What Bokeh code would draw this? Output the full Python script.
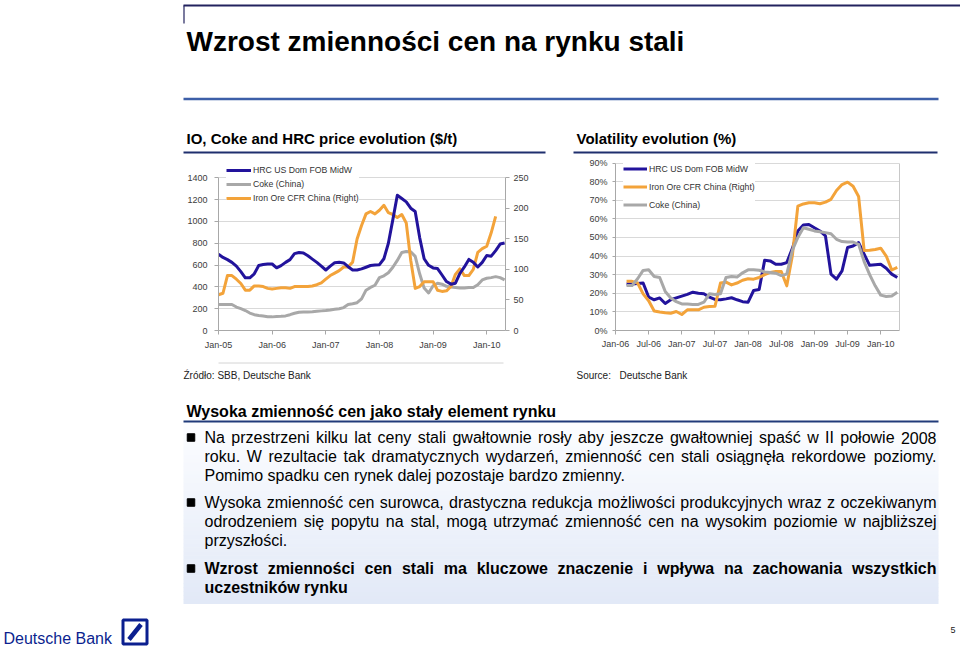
from bokeh.plotting import figure
from bokeh.layouts import column, row
from bokeh.models import (Range1d, LinearAxis, FixedTicker, Legend, LegendItem, Spacer,
                          PrintfTickFormatter)
from bokeh.embed import file_html
from bokeh.resources import INLINE
from bokeh.core.properties import value

FONT = "Liberation Sans"

# ------------------------------------------------------------------ data
slide_title = "Wzrost zmienności cen na rynku stali"
left_title = "IO, Coke and HRC price evolution ($/t)"
right_title = "Volatility evolution (%)"
left_source = "Źródło: SBB, Deutsche Bank"
right_source_label = "Source:"
right_source = "Deutsche Bank"
box_heading = "Wysoka zmienność cen jako stały element rynku"
footer_brand = "Deutsche Bank"
page_number = "5"

series_names = ["HRC US Dom FOB MidW", "Coke (China)", "Iron Ore CFR China (Right)"]

# monthly prices from Jan-05 (month 0)
price_tick_months = [0, 12, 24, 36, 48, 60]
price_tick_labels = ["Jan-05", "Jan-06", "Jan-07", "Jan-08", "Jan-09", "Jan-10"]
price_left_ticks = [0, 200, 400, 600, 800, 1000, 1200, 1400]
price_right_ticks = [0, 50, 100, 150, 200, 250]
hrc_price = [700, 670, 650, 625, 590, 540, 483, 483, 520, 596,
             605, 610, 610, 575, 595, 625, 650, 705, 715, 710,
             685, 655, 625, 590, 555, 590, 622, 625, 620, 585,
             555, 555, 565, 580, 596, 600, 604, 658, 800, 1017,
             1241, 1211, 1180, 1122, 1092, 852, 658, 598, 574, 568,
             509, 449, 425, 434, 523, 583, 652, 625, 583, 625,
             688, 682, 733, 793, 802]
coke_price = [238, 238, 238, 238, 215, 200, 183, 160, 145, 138,
              132, 126, 125, 128, 130, 134, 145, 158, 168, 170,
              170, 172, 176, 180, 183, 188, 194, 200, 210, 238,
              245, 255, 290, 370, 395, 415, 485, 502, 530, 580,
              643, 715, 724, 722, 680, 520, 389, 344, 410, 434,
              425, 405, 400, 395, 390, 390, 395, 395, 420, 464,
              479, 485, 494, 485, 464]
iron_price = [58.5, 61, 90, 90, 84, 77, 66, 66, 73, 73,
              72, 69, 68, 69, 70, 70, 69, 72, 72, 72,
              72, 73, 75, 78, 84, 90, 94, 98, 104, 104,
              112, 150, 172, 191, 195, 191, 197, 205, 193, 190,
              185, 190, 176, 115, 69, 72, 80, 80, 80, 66,
              64, 65, 72, 92, 101, 90, 90, 100, 128, 134,
              138, 160, 187]

# volatility (%), monthly from Mar-06 (month 2 counted from Jan-06)
vol_names = ["HRC US Dom FOB MidW", "Iron Ore CFR China (Right)", "Coke (China)"]
vol_tick_months = [0, 6, 12, 18, 24, 30, 36, 42, 48]
vol_tick_labels = ["Jan-06", "Jul-06", "Jan-07", "Jul-07", "Jan-08",
                   "Jul-08", "Jan-09", "Jul-09", "Jan-10"]
vol_y_ticks = [0, 10, 20, 30, 40, 50, 60, 70, 80, 90]
vol_first_month = 2
vol_hrc = [25, 25, 25.3, 25.5, 18, 16.5, 17.5, 14.5, 16.5, 17.5,
           18.5, 19.4, 20.6, 20, 19.7, 17.9, 16.7, 16.5, 17, 17.6,
           16.5, 15.5, 15.2, 21.5, 22, 37.8, 37.4, 35.6, 35.6, 36.5,
           44, 53.5, 56.7, 57, 55.2, 53.5, 50.8, 30.3, 27.6, 32,
           44.6, 45.4, 47.2, 41, 35, 35.3, 35.6, 33.5, 30.3, 28.5]
vol_iron = [26.4, 26.4, 25.5, 19.7, 16, 10.5, 9.9, 9.5, 9.3, 10.2,
            8.6, 11.1, 11.1, 11.1, 12.5, 12.9, 13, 25.5, 26, 24.5,
            25.5, 27, 27.8, 27.6, 28.5, 30, 31.2, 31.7, 31.7, 24,
            40, 66.8, 68, 68.6, 68.6, 68.1, 69, 70.5, 75.2, 78.4,
            79.7, 77.5, 72, 43, 43.1, 43.5, 44.2, 40, 32.5, 33.9]
vol_coke = [24.2, 24.2, 27.8, 32.3, 32.6, 29, 28.5, 21, 17.5, 15.5,
            14.3, 14.3, 14, 14, 15.2, 19.7, 19.4, 19.7, 28.5, 29,
            28.7, 31, 32.6, 32.6, 32.4, 31.5, 31.2, 30.8, 29.5, 30.3,
            43, 50, 55.2, 54.4, 53.5, 53.1, 52.6, 52, 49, 47.8,
            47.5, 47.5, 46.3, 37, 30, 24, 19, 18.3, 18.5, 20.5]

# text box: (text, bold, justified, bullet)
box_lines = [
    ("Na przestrzeni kilku lat ceny stali gwałtownie rosły aby jeszcze gwałtowniej spaść w II połowie 2008", False, True, True),
    ("roku. W rezultacie tak dramatycznych wydarzeń, zmienność cen stali osiągnęła rekordowe poziomy.", False, True, False),
    ("Pomimo spadku cen rynek dalej pozostaje bardzo zmienny.", False, False, False),
    ("Wysoka zmienność cen surowca, drastyczna redukcja możliwości produkcyjnych wraz z oczekiwanym", False, True, True),
    ("odrodzeniem się popytu na stal, mogą utrzymać zmienność cen na wysokim poziomie w najbliższej", False, True, False),
    ("przyszłości.", False, False, False),
    ("Wzrost zmienności cen stali ma kluczowe znaczenie i wpływa na zachowania wszystkich", True, True, True),
    ("uczestników rynku", True, False, False),
]
box_baselines = [443, 462, 481, 508, 527, 546, 574, 593]

# ------------------------------------------------------------------ styles
C_HRC = "#22139c"
C_COKE = "#a8a8a8"
C_IRON = "#f3a33a"
GRID = "#d9d9d9"
AXIS = "#a8a8a8"
TICK_TXT = "#3c3c3c"
NAVY = "#1f2f6e"
DB_BLUE = "#0b1f8f"
BASE_SHIFT = 0.36   # renderer places alphabetic baseline this many em lower

# Arial / Liberation Sans advance widths (1/1000 em)
REG = {' ': 278, '.': 278, ',': 278, ':': 278, '(': 333, ')': 333, '-': 333}
for ch, w in zip("abcdefghijklmnopqrstuvwxyz",
                 [556, 556, 500, 556, 556, 278, 556, 556, 222, 222, 500, 222, 833,
                  556, 556, 556, 556, 333, 500, 278, 556, 500, 722, 500, 500, 500]):
    REG[ch] = w
REG.update({'ą': 556, 'ć': 500, 'ę': 556, 'ł': 222, 'ń': 556, 'ó': 556, 'ś': 500, 'ź': 500, 'ż': 500})
for ch, w in zip("ABCDEFGHIJKLMNOPQRSTUVWXYZ",
                 [667, 667, 722, 722, 667, 611, 778, 722, 278, 500, 667, 556, 833,
                  722, 778, 667, 778, 722, 667, 611, 722, 667, 944, 667, 667, 611]):
    REG[ch] = w
for d in "0123456789":
    REG[d] = 556
BOLD = dict(REG)
for ch, w in zip("abcdefghijklmnopqrstuvwxyz",
                 [556, 611, 556, 611, 556, 333, 611, 611, 278, 278, 556, 278, 889,
                  611, 611, 611, 611, 389, 556, 333, 611, 556, 778, 556, 556, 500]):
    BOLD[ch] = w
BOLD.update({'ą': 556, 'ć': 556, 'ę': 556, 'ł': 278, 'ń': 611, 'ó': 611, 'ś': 556, 'ź': 500, 'ż': 500})


def text_w(s, size, bold):
    tab = BOLD if bold else REG
    return sum(tab.get(ch, 556) for ch in s) * size / 1000.0


def canvas(w, h, y0, y1):
    p = figure(width=w, height=h, x_range=Range1d(0, w), y_range=Range1d(y1, y0),
               output_backend="svg", toolbar_location=None,
               x_axis_location=None, y_axis_location=None,
               min_border=0, outline_line_color=None,
               background_fill_color="white", border_fill_color="white")
    p.grid.visible = False
    return p


def style_axis(ax, ticks, tick_out, standoff):
    ax.ticker = FixedTicker(ticks=ticks)
    ax.axis_line_color = AXIS
    ax.major_tick_line_color = AXIS
    ax.major_tick_out = tick_out
    ax.major_tick_in = 0
    ax.minor_tick_line_color = None
    ax.major_label_text_font = FONT
    ax.major_label_text_font_size = "9px"
    ax.major_label_text_color = TICK_TXT
    ax.major_label_standoff = standoff


def txt(p, x, y, s, size, bold=False, color="black", align="left"):
    p.text(x=[x], y=[y - BASE_SHIFT * size], text=[s], text_font=value(FONT),
           text_font_size="%gpx" % size,
           text_font_style="bold" if bold else "normal", text_color=color,
           text_align=align, text_baseline="alphabetic")

# ------------------------------------------------------------------ header
hdr = canvas(960, 155, 0, 155)
hdr.segment(x0=[183], y0=[5], x1=[960], y1=[5], line_color="#22225e", line_width=2)
hdr.segment(x0=[183.5], y0=[5], x1=[183.5], y1=[23], line_color="#22225e", line_width=1.2)
txt(hdr, 186, 51, slide_title, 28, bold=True)
hdr.segment(x0=[183], y0=[98.5], x1=[938], y1=[98.5], line_color="#3d5fa8", line_width=2.5)
txt(hdr, 186, 143, left_title, 15, bold=True)
txt(hdr, 576, 143, right_title, 15, bold=True)
hdr.segment(x0=[183, 573], y0=[152, 152], x1=[545, 937], y1=[152, 152],
            line_color=NAVY, line_width=2)

# ------------------------------------------------------------------ left chart
P1_W, P1_H = 362, 205
P1_BL, P1_BR, P1_BB = 35, 40, 25
P1_DATA_PX = 157               # height from 0 to top tick
p1_frame_h = P1_H - P1_BB
y1_end = price_left_ticks[-1] * p1_frame_h / P1_DATA_PX
y1r_end = price_right_ticks[-1] * p1_frame_h / P1_DATA_PX
X1_END = 64.2

p1 = figure(width=P1_W, height=P1_H, x_range=Range1d(0, X1_END), y_range=Range1d(0, y1_end),
            output_backend="svg", toolbar_location=None,
            min_border_left=P1_BL, min_border_right=P1_BR, min_border_top=0,
            min_border_bottom=P1_BB, outline_line_color=None,
            background_fill_color="white", border_fill_color="white")
p1.extra_y_ranges = {"right": Range1d(0, y1r_end)}
style_axis(p1.xaxis[0], price_tick_months, 4, 5)
p1.xaxis[0].major_label_overrides = dict(zip(price_tick_months, price_tick_labels))
style_axis(p1.yaxis[0], price_left_ticks, 4, 7)
p1.yaxis[0].bounds = (0, price_left_ticks[-1])
rax = LinearAxis(y_range_name="right")
style_axis(rax, price_right_ticks, 4, 4)
rax.bounds = (0, price_right_ticks[-1])
p1.add_layout(rax, "right")
p1.xgrid.visible = False
p1.ygrid.ticker = FixedTicker(ticks=price_left_ticks)
p1.ygrid.grid_line_color = GRID

r_coke = p1.line(list(range(len(coke_price))), coke_price, line_color=C_COKE, line_width=3,
                 line_join="round")
r_iron = p1.line(list(range(len(iron_price))), iron_price, line_color=C_IRON, line_width=3,
                 line_join="round", y_range_name="right")
r_hrc = p1.line(list(range(len(hrc_price))), hrc_price, line_color=C_HRC, line_width=3,
                line_join="round")
leg1 = Legend(items=[LegendItem(label=series_names[0], renderers=[r_hrc]),
                     LegendItem(label=series_names[1], renderers=[r_coke]),
                     LegendItem(label=series_names[2], renderers=[r_iron])],
              location="top_left", margin=8, padding=4, spacing=0,
              label_height=14, glyph_height=14, glyph_width=25, label_standoff=2,
              label_text_font=FONT, label_text_font_size="8.7px", label_text_color="#333333",
              border_line_color=None, background_fill_color="white", background_fill_alpha=1.0)
p1.add_layout(leg1)

# ------------------------------------------------------------------ right chart
P2_W, P2_H = 364, 205
P2_BL, P2_BR, P2_BB = 42, 38, 30
P2_DATA_PX = 167.5
p2_frame_h = P2_H - P2_BB
y2_end = vol_y_ticks[-1] * p2_frame_h / P2_DATA_PX
X2_END = 51.4

p2 = figure(width=P2_W, height=P2_H, x_range=Range1d(0, X2_END), y_range=Range1d(0, y2_end),
            output_backend="svg", toolbar_location=None,
            min_border_left=P2_BL, min_border_right=P2_BR, min_border_top=0,
            min_border_bottom=P2_BB, outline_line_color=None,
            background_fill_color="white", border_fill_color="white")
style_axis(p2.xaxis[0], vol_tick_months, 4, 4)
p2.xaxis[0].major_label_overrides = dict(zip(vol_tick_months, vol_tick_labels))
style_axis(p2.yaxis[0], vol_y_ticks, 3, 5)
p2.yaxis[0].formatter = PrintfTickFormatter(format="%d%%")
p2.yaxis[0].bounds = (0, vol_y_ticks[-1])
border_ax = LinearAxis(ticker=FixedTicker(ticks=[]), bounds=(0, vol_y_ticks[-1]),
                       axis_line_color="#c8c8c8", major_tick_line_color=None,
                       minor_tick_line_color=None)
p2.add_layout(border_ax, "right")
p2.xgrid.visible = False
p2.ygrid.ticker = FixedTicker(ticks=vol_y_ticks)
p2.ygrid.grid_line_color = GRID

vx = [vol_first_month + i for i in range(len(vol_hrc))]
v_hrc = p2.line(vx, vol_hrc, line_color=C_HRC, line_width=3, line_join="round")
v_iron = p2.line(vx, vol_iron, line_color=C_IRON, line_width=3, line_join="round")
v_coke = p2.line(vx, vol_coke, line_color=C_COKE, line_width=3, line_join="round")
leg2 = Legend(items=[LegendItem(label=vol_names[0], renderers=[v_hrc]),
                     LegendItem(label=vol_names[1], renderers=[v_iron]),
                     LegendItem(label=vol_names[2], renderers=[v_coke])],
              location="top_left", margin=8, padding=8, spacing=7,
              label_height=11, glyph_height=11, glyph_width=24, label_standoff=2,
              label_text_font=FONT, label_text_font_size="8.7px", label_text_color="#333333",
              border_line_color=None, background_fill_color="white", background_fill_alpha=1.0)
p2.add_layout(leg2)

# ------------------------------------------------------------------ bottom part
bot = canvas(960, 287, 360, 647)
bot.segment(x0=[218], y0=[362.5], x1=[503], y1=[362.5], line_color="#d4d4d4", line_width=1)
txt(bot, 183, 379, left_source, 10, color="#222222")
txt(bot, 576, 379, right_source_label, 10, color="#222222")
txt(bot, 619, 379, right_source, 10, color="#222222")

# gradient background of text box
n_bands = 45
top_y, bot_y = 422.0, 603.0
c_top = (252, 253, 255)
c_bot = (226, 233, 247)
band_top, band_bot, band_col = [], [], []
for i in range(n_bands):
    t = i / (n_bands - 1)
    band_top.append(top_y + (bot_y - top_y) * i / n_bands)
    band_bot.append(top_y + (bot_y - top_y) * (i + 1) / n_bands + 0.5)
    c = tuple(int(round(a + (b - a) * t)) for a, b in zip(c_top, c_bot))
    band_col.append("#%02x%02x%02x" % c)
bot.quad(left=183, right=938, top=band_top, bottom=band_bot, fill_color=band_col,
         line_color=None)

txt(bot, 186, 417, box_heading, 16, bold=True)
bot.segment(x0=[183], y0=[421], x1=[938], y1=[421], line_color="#1f3a7a", line_width=2)

TEXT_X, RIGHT_EDGE, BODY = 204, 936, 16
groups = {(b, a): {"x": [], "y": [], "t": []} for b in (False, True) for a in ("left", "right")}
bul_x, bul_y = [], []
for (s, bold, just, bullet), yb in zip(box_lines, box_baselines):
    words = s.split(" ")
    ws = [text_w(w, BODY, bold) for w in words]
    if just and len(words) > 1:
        gap = (RIGHT_EDGE - TEXT_X - sum(ws)) / (len(words) - 1)
    else:
        gap = text_w(" ", BODY, bold)
    x = TEXT_X
    for i, (w, wd) in enumerate(zip(words, ws)):
        if just and i == len(words) - 1:
            g = groups[(bold, "right")]
            g["x"].append(RIGHT_EDGE)
        else:
            g = groups[(bold, "left")]
            g["x"].append(x)
        g["y"].append(yb - BASE_SHIFT * BODY)
        g["t"].append(w)
        x += wd + gap
    if bullet:
        bul_x.append(190.5)
        bul_y.append(yb - 6)

for (bold, align), g in groups.items():
    if g["t"]:
        bot.text(x=g["x"], y=g["y"], text=g["t"], text_font=value(FONT),
                 text_font_size="%gpx" % BODY,
                 text_font_style="bold" if bold else "normal", text_color="black",
                 text_align=align, text_baseline="alphabetic")
bot.scatter(x=bul_x, y=bul_y, marker="square", size=7.5, fill_color="black", line_color="black")

# footer
txt(bot, 3, 644, footer_brand, 16, color=DB_BLUE)
bot.quad(left=[122.5], right=[146.5], top=[619.5], bottom=[643.5], fill_color=None,
         line_color=DB_BLUE, line_width=3)
bot.segment(x0=[128.5], y0=[639], x1=[140.5], y1=[624], line_color=DB_BLUE, line_width=4.5)
txt(bot, 950, 633, page_number, 9, color="#222222")

layout = column(
    hdr,
    row(Spacer(width=183, height=205), p1, Spacer(width=28, height=205), p2,
        Spacer(width=23, height=205), spacing=0),
    bot,
    spacing=0,
)

open("out.html", "w").write(file_html(layout, INLINE))
